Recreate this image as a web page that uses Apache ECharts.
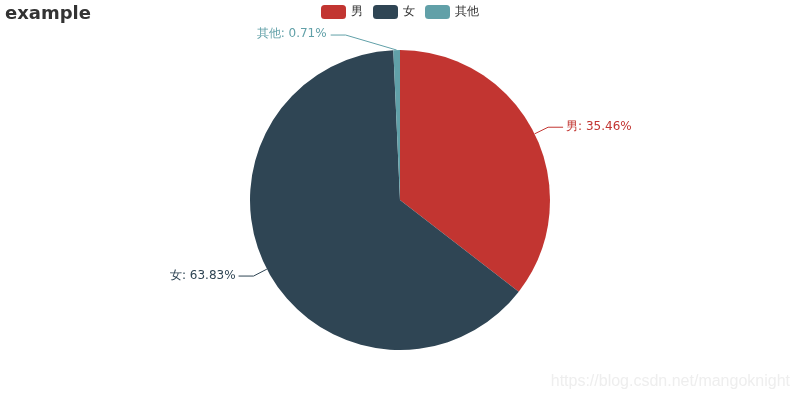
<!DOCTYPE html>
<html>
<head>
<meta charset="utf-8">
<script src="https://cdn.jsdelivr.net/npm/echarts@6/dist/echarts.min.js"></script>
<style>html,body{margin:0;padding:0;background:#fff;}#main{width:800px;height:400px;}</style>
</head>
<body>
<div id="main"></div>
<script>
const categories = ['男', '女', '其他'];
const values = [50, 90, 1];
const colors = ['#c23531', '#2f4554', '#61a0a8'];
const watermark = 'https://blog.csdn.net/mangoknight';

const chart = echarts.init(document.getElementById('main'));
chart.setOption({
  animation: false,
  color: colors,
  textStyle: { fontFamily: 'DejaVu Sans' },
  title: {
    text: 'example',
    left: 0, top: 0,
    textStyle: { fontSize: 18, fontWeight: 'bold', color: '#333', fontFamily: 'DejaVu Sans' }
  },
  legend: {
    data: categories,
    top: 0,
    left: 'center',
    itemWidth: 25,
    itemHeight: 14,
    itemGap: 10,
    icon: 'roundRect',
    textStyle: { fontSize: 12, color: '#333' }
  },
  graphic: [{
    type: 'text',
    right: 10,
    bottom: 10,
    style: { text: watermark, fill: '#eeeeee', font: '16px "Liberation Sans", Arial, sans-serif' },
    z: -1
  }],
  series: [{
    type: 'pie',
    radius: [0, '75%'],
    center: ['50%', '50%'],
    startAngle: 90,
    data: categories.map((c, i) => ({ name: c, value: values[i] })),
    label: {
      show: true,
      position: 'outside',
      formatter: '{b}: {d}%',
      fontSize: 12,
      color: 'inherit',
      distanceToLabelLine: 3
    },
    labelLine: { show: true, length: 15, length2: 15, smooth: false },
    labelLayout: function (p) {
      if (p.dataIndex === 2 && p.labelLinePoints) {
        const e = p.labelLinePoints[0];
        return {
          x: e[0] - 70,
          y: e[1] - 16,
          align: 'right',
          verticalAlign: 'middle',
          labelLinePoints: [[e[0], e[1]], [e[0] - 51, e[1] - 15], [e[0] - 66, e[1] - 15]]
        };
      }
      return {};
    },
    itemStyle: { borderWidth: 0 },
    emphasis: { scale: false }
  }]
});
</script>
</body>
</html>
